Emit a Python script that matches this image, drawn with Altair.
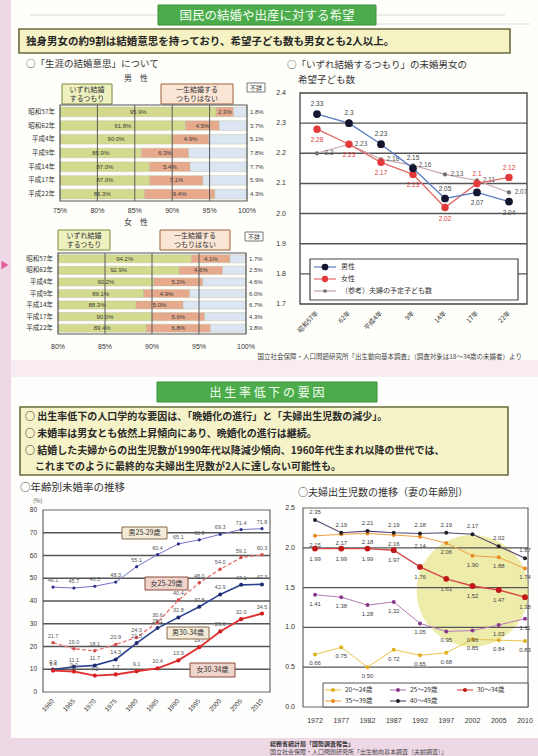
import altair as alt
import pandas as pd

FONT = "Noto Sans CJK JP"
NUMF = "Liberation Sans"
W, H = 538, 756

# ---------------- data: 生涯の結婚意思 (%) ----------------
survey_rows = ["昭和57年", "昭和62年", "平成4年", "平成9年", "平成14年", "平成17年", "平成22年"]
intent_segments = ["いずれ結婚するつもり", "一生結婚するつもりはない", "不詳"]
male_marry = [95.9, 91.8, 90.0, 85.9, 87.0, 87.0, 86.3]
male_never = [2.3, 4.5, 4.9, 6.3, 5.4, 7.1, 9.4]
male_unknown = [1.8, 3.7, 5.1, 7.8, 7.7, 5.9, 4.3]
female_marry = [94.2, 92.9, 90.2, 89.1, 88.3, 90.0, 89.4]
female_never = [4.1, 4.6, 5.2, 4.9, 5.0, 5.6, 6.8]
female_unknown = [1.7, 2.5, 4.6, 6.0, 6.7, 4.3, 3.8]
male_ticks = [75, 80, 85, 90, 95, 100]
female_ticks = [80, 85, 90, 95, 100]

# ---------------- data: 希望子ども数 ----------------
child_periods = ["昭和57年", "62年", "平成4年", "9年", "14年", "17年", "22年"]
child_series = ["男性", "女性", "（参考）夫婦の予定子ども数"]
child_male = [2.33, 2.30, 2.23, 2.15, 2.05, 2.07, 2.04]
child_female = [2.28, 2.23, 2.17, 2.13, 2.02, 2.10, 2.12]
child_couple = [2.20, 2.23, 2.18, 2.16, 2.13, 2.11, 2.07]
child_ticks = [1.7, 1.8, 1.9, 2.0, 2.1, 2.2, 2.3, 2.4]

# ---------------- data: 年齢別未婚率 (%) ----------------
census_years = ["1960", "1965", "1970", "1975", "1980", "1985", "1990", "1995", "2000", "2005", "2010"]
unmarried_series = ["男25-29歳", "女25-29歳", "男30-34歳", "女30-34歳"]
unm_m2529 = [46.1, 45.7, 46.5, 48.3, 55.1, 60.4, 65.1, 66.9, 69.3, 71.4, 71.8]
unm_f2529 = [21.7, 19.0, 18.1, 20.9, 24.0, 30.6, 40.4, 48.0, 54.0, 59.1, 60.3]
unm_m3034 = [9.9, 11.1, 11.7, 14.3, 21.5, 28.1, 32.8, 37.5, 42.9, 47.1, 47.3]
unm_f3034 = [9.4, 9.0, 7.2, 7.7, 9.1, 10.4, 13.9, 19.7, 26.6, 32.0, 34.5]
unmarried_ticks = [0, 10, 20, 30, 40, 50, 60, 70, 80]

# ---------------- data: 夫婦出生児数（妻の年齢別） ----------------
fert_years = ["1972", "1977", "1982", "1987", "1992", "1997", "2002", "2005", "2010"]
fert_series = ["20〜24歳", "25〜29歳", "30〜34歳", "35〜39歳", "40〜49歳"]
fert_20_24 = [0.66, 0.75, 0.50, 0.72, 0.65, 0.68, 0.85, 0.84, 0.83]
fert_25_29 = [1.41, 1.38, 1.28, 1.32, 1.05, 0.95, 0.96, 1.03, 1.11]
fert_30_34 = [1.99, 1.99, 1.99, 1.97, 1.76, 1.61, 1.52, 1.47, 1.38]
fert_35_39 = [2.15, 2.17, 2.18, 2.16, 2.14, 2.06, 1.90, 1.88, 1.74]
fert_40_49 = [2.35, 2.19, 2.21, 2.19, 2.18, 2.19, 2.17, 2.02, 1.87]
fert_ticks = [0.0, 0.5, 1.0, 1.5, 2.0, 2.5]

# ---------------- helpers ----------------
one = pd.DataFrame({"k": [0]})
layers = []


def rect(x, x2, y, y2, fill, stroke=None, sw=1.0, opacity=1.0):
    kw = dict(fill=fill, opacity=opacity)
    if stroke:
        kw.update(stroke=stroke, strokeWidth=sw)
    return alt.Chart(one).mark_rect(**kw).encode(
        x=alt.value(x), x2=alt.value(x2), y=alt.value(y), y2=alt.value(y2))


def text(s, x, y, size=8, color="#222", weight="normal", align="left",
         baseline="middle", font=FONT, lh=None, angle=None):
    kw = dict(text=s, fontSize=size, color=color, fontWeight=weight,
              align=align, baseline=baseline, font=font)
    if lh:
        kw["lineHeight"] = lh
    if angle is not None:
        kw["angle"] = angle
    return alt.Chart(one).mark_text(**kw).encode(x=alt.value(x), y=alt.value(y))


def hline(x, x2, y, color, sw=1.0, dash=None):
    kw = dict(color=color, strokeWidth=sw)
    if dash:
        kw["strokeDash"] = dash
    return alt.Chart(one).mark_rule(**kw).encode(x=alt.value(x), x2=alt.value(x2), y=alt.value(y))


def dot(x, y, color, size=30, shape="circle"):
    return alt.Chart(one).mark_point(filled=True, color=color, size=size, shape=shape, opacity=1).encode(
        x=alt.value(x), y=alt.value(y))


# ---------------- page background ----------------
layers.append(rect(11, W, 0, 360, "#fefefa"))
layers.append(rect(11, W, 360, 377, "#f8ecf2"))
layers.append(rect(11, W, 377, 738, "#fefefd"))
layers.append(dot(5, 265, "#e0609c", 70, "triangle-right"))

# banner 1 + headline box
layers.append(hline(30, 157, 15, "#d6d6d6"))
layers.append(hline(377, 505, 15, "#d6d6d6"))
layers.append(hline(377, 530, 24, "#dcdcdc"))
layers.append(rect(158, 376, 5, 25, "#4cac4c", "#3d8f3d", 1))
layers.append(text("国民の結婚や出産に対する希望", 267, 15.5, 12.5, "#f4fff2", align="center"))
layers.append(rect(19, 510, 29, 53, "#f5f2c4", "#6b6b3c", 1.6))
layers.append(text("独身男女の約9割は結婚意思を持っており、希望子ども数も男女とも2人以上。",
                   26, 41.5, 10.5, "#262626", weight="bold"))

# ---------------- bar panels ----------------
intent_colors = ["#d3da8d", "#e6a98c", "#dbe6f2"]


def bar_panel(marry, never, unknown, ticks, xr, yr, tick_y):
    lo, hi = ticks[0], ticks[-1]
    xs = alt.Scale(domain=[lo, hi], range=xr, zero=False, nice=False)
    ys = alt.Scale(domain=survey_rows, range=yr, paddingInner=0.3, paddingOuter=0.15)
    recs = []
    for r, a, b, c in zip(survey_rows, marry, never, unknown):
        recs.append({"row": r, "seg": intent_segments[0], "s": lo, "e": a,
                     "m": (lo + a) / 2, "lab": f"{a:.1f}%", "side": "in"})
        recs.append({"row": r, "seg": intent_segments[1], "s": a, "e": a + b,
                     "m": a + b / 2, "lab": f"{b:.1f}%", "side": "in"})
        recs.append({"row": r, "seg": intent_segments[2], "s": a + b, "e": hi,
                     "m": hi, "lab": f"{c:.1f}%", "side": "out"})
    df = pd.DataFrame(recs)
    Y = alt.Y("row:N", scale=ys, axis=None)
    out = []
    out.append(alt.Chart(df).mark_bar(stroke="#b8b8a0", strokeWidth=0.4).encode(
        x=alt.X("s:Q", scale=xs, axis=None), x2="e:Q", y=Y,
        color=alt.Color("seg:N", scale=alt.Scale(domain=intent_segments, range=intent_colors), legend=None)))
    tdf = pd.DataFrame({"t": ticks, "lab": [f"{t}%" for t in ticks]})
    out.append(alt.Chart(tdf[1:-1]).mark_rule(color="#5a5a5a", strokeWidth=1).encode(
        x=alt.X("t:Q", scale=xs, axis=None), y=alt.value(yr[0]), y2=alt.value(yr[1])))
    out.append(rect(xr[0], xr[1], yr[0], yr[1], "transparent", "#555", 1.2))
    out.append(alt.Chart(df).transform_filter(alt.datum.side == "in").mark_text(
        fontSize=6, color="#3a3a3a", font=NUMF).encode(
        x=alt.X("m:Q", scale=xs, axis=None), y=Y, text="lab:N"))
    out.append(alt.Chart(df).transform_filter(alt.datum.side == "out").mark_text(
        fontSize=6, color="#3a3a3a", font=NUMF, align="left", dx=3).encode(
        x=alt.X("m:Q", scale=xs, axis=None), y=Y, text="lab:N"))
    out.append(alt.Chart(pd.DataFrame({"row": survey_rows})).mark_text(
        fontSize=6.5, color="#333", font=FONT, align="right").encode(
        x=alt.value(xr[0] - 5), y=Y, text="row:N"))
    out.append(alt.Chart(tdf).mark_text(fontSize=7, color="#333", font=NUMF).encode(
        x=alt.X("t:Q", scale=xs, axis=None), y=alt.value(tick_y), text="lab:N"))
    return out


layers.append(text("○「生涯の結婚意思」について", 26, 64, 9.5, "#333"))
layers.append(text("男　性", 136, 79, 8, "#333", align="center"))
layers.append(rect(62, 112, 84, 104, "#eef1bf", "#7d8a3a", 1))
layers.append(text(["いずれ結婚", "するつもり"], 87, 90, 7, "#333", align="center", lh=9))
layers.append(rect(161, 233, 84, 104, "#fbe6d6", "#a0603a", 1))
layers.append(text(["一生結婚する", "つもりはない"], 197, 90, 7, "#333", align="center", lh=9))
layers.append(rect(247, 265, 83, 92, "#ffffff", "#555", 0.8))
layers.append(text("不詳", 256, 87.5, 6, "#333", align="center"))
layers.extend(bar_panel(male_marry, male_never, male_unknown, male_ticks, [60, 247], [105, 201], 211))

layers.append(text("女　性", 136, 223, 8, "#333", align="center"))
layers.append(rect(58, 110, 230, 250, "#eef1bf", "#7d8a3a", 1))
layers.append(text(["いずれ結婚", "するつもり"], 84, 236, 7, "#333", align="center", lh=9))
layers.append(rect(160, 230, 230, 250, "#fbe6d6", "#a0603a", 1))
layers.append(text(["一生結婚する", "つもりはない"], 195, 236, 7, "#333", align="center", lh=9))
layers.append(rect(245, 263, 232, 241, "#ffffff", "#555", 0.8))
layers.append(text("不詳", 254, 236.5, 6, "#333", align="center"))
layers.extend(bar_panel(female_marry, female_never, female_unknown, female_ticks, [58, 246], [253, 334], 347))


# ---------------- line helper ----------------
def series(cats, vals, labels, xs, ys, lcol, pcol, sw=1.2, size=30, dash=None,
           lab_col="#333", dx=0, dy=-8, lab_size=6.5, dys=None):
    df = pd.DataFrame({"c": cats, "v": vals, "lab": labels, "i": list(range(len(cats)))})
    base = alt.Chart(df).encode(x=alt.X("c:N", scale=xs, axis=None),
                                y=alt.Y("v:Q", scale=ys, axis=None))
    lk = dict(color=lcol, strokeWidth=sw)
    if dash:
        lk["strokeDash"] = dash
    out = [base.mark_line(**lk).encode(order=alt.Order("i:Q")),
           base.mark_point(filled=True, size=size, color=pcol, opacity=1)]
    offsets = dys if dys is not None else [dy] * len(cats)
    for off in sorted(set(offsets)):
        idx = [i for i, o in enumerate(offsets) if o == off]
        out.append(base.transform_filter(alt.FieldOneOfPredicate(field="i", oneOf=idx)).mark_text(
            fontSize=lab_size, color=lab_col, dx=dx, dy=off, font=NUMF).encode(text="lab:N"))
    return out


def grid_y(ticks, ys, x0, x1, col="#555", sw=1.2):
    return alt.Chart(pd.DataFrame({"t": ticks})).mark_rule(color=col, strokeWidth=sw).encode(
        y=alt.Y("t:Q", scale=ys, axis=None), x=alt.value(x0), x2=alt.value(x1))


def ylabels(ticks, labs, ys, x, size=7):
    return alt.Chart(pd.DataFrame({"t": ticks, "lab": labs})).mark_text(
        fontSize=size, color="#333", align="right", font=NUMF).encode(
        y=alt.Y("t:Q", scale=ys, axis=None), x=alt.value(x), text="lab:N")


def xlabels(cats, xs, y, size=6.5, angle=None, font=FONT):
    kw = dict(fontSize=size, color="#333", font=font)
    if angle is not None:
        kw.update(angle=angle, align="right", baseline="middle")
    return alt.Chart(pd.DataFrame({"c": cats})).mark_text(**kw).encode(
        x=alt.X("c:N", scale=xs, axis=None), y=alt.value(y), text="c:N")


# ---------------- 希望子ども数 panel ----------------
xs_c = alt.Scale(type="point", domain=child_periods, range=[317, 509], padding=0)
ys_c = alt.Scale(domain=[1.7, 2.4], range=[304, 93], zero=False, nice=False)
layers.append(text("○「いずれ結婚するつもり」の未婚男女の", 287, 65, 9.5, "#333"))
layers.append(text("希望子ども数", 298, 80, 9.5, "#333"))
layers.append(rect(300, 527, 93, 304, "#ffffff", "#444", 1.3))
layers.append(grid_y(child_ticks[1:-1], ys_c, 300, 527, "#555", 1.4))
layers.append(ylabels(child_ticks, [f"{t:.1f}" for t in child_ticks], ys_c, 286))
layers.append(xlabels(child_periods, xs_c, 312, 6.5, angle=312))
layers.extend(series(child_periods, child_couple, [f"{v:g}" for v in child_couple], xs_c, ys_c,
                     "#c4a2aa", "#707070", 1.1, 18, lab_col="#555", dx=12, dy=0))
layers.extend(series(child_periods, child_female, [f"{v:g}" for v in child_female], xs_c, ys_c,
                     "#e46a6a", "#e23a3a", 1.3, 55, lab_col="#e03a3a",
                     dys=[11, 11, 11, 11, 11, -9, -9]))
layers.extend(series(child_periods, child_male, [f"{v:g}" for v in child_male], xs_c, ys_c,
                     "#5b7cc0", "#151530", 1.3, 60, lab_col="#444",
                     dys=[-10, -10, -10, -10, -10, 11, 11]))
layers.append(rect(310, 518, 259, 300, "#ffffff", "#444", 1.2))
leg_c = [("#5b7cc0", "#151530", 45), ("#e46a6a", "#e23a3a", 40), ("#c4a2aa", "#707070", 14)]
for k, (name, (lc, pc, sz)) in enumerate(zip(child_series, leg_c)):
    yy = 267 + 12 * k
    layers.append(hline(314, 336, yy, lc, 1.2))
    layers.append(dot(325, yy, pc, sz))
    layers.append(text(name, 341, yy, 7, "#333"))

layers.append(text("国立社会保障・人口問題研究所「出生動向基本調査」（調査対象は18〜34歳の未婚者）より",
                   522, 357, 6.5, "#444", align="right"))

# ---------------- section 2 header ----------------
layers.append(rect(157, 377, 382, 402, "#4cac4c", "#3d8f3d", 1))
layers.append(text("出 生 率 低 下 の 要 因", 267, 392.5, 12, "#f4fff2", align="center"))
layers.append(rect(20, 508, 407, 475, "#f6f3c8", "#6b6b3c", 1.6))
layers.append(text("○ 出生率低下の人口学的な要因は、「晩婚化の進行」と「夫婦出生児数の減少」。", 25, 417, 10, "#2a2a2a", weight="bold"))
layers.append(text("○ 未婚率は男女とも依然上昇傾向にあり、晩婚化の進行は継続。", 25, 434, 10, "#2a2a2a", weight="bold"))
layers.append(text("○ 結婚した夫婦からの出生児数が1990年代以降減少傾向、1960年代生まれ以降の世代では、", 25, 451, 10, "#2a2a2a", weight="bold"))
layers.append(text("これまでのように最終的な夫婦出生児数が2人に達しない可能性も。", 35, 467, 10, "#2a2a2a", weight="bold"))

# ---------------- 年齢別未婚率 panel ----------------
xs_u = alt.Scale(type="point", domain=census_years, range=[53, 262], padding=0)
ys_u = alt.Scale(domain=[0, 80], range=[692, 510], zero=False, nice=False)
layers.append(text("○年齢別未婚率の推移", 20, 488, 10.5, "#333"))
layers.append(text("(%)", 33, 501, 6, "#555"))
layers.append(rect(43, 270, 510, 692, "#ffffff", "#666", 1.2))
layers.append(grid_y(unmarried_ticks[1:-1], ys_u, 43, 270, "#555", 1.3))
layers.append(ylabels(unmarried_ticks, [str(t) for t in unmarried_ticks], ys_u, 37, 6.5))
layers.append(xlabels(census_years, xs_u, 700, 6.5, angle=312, font=NUMF))
unm_style = [
    (unm_m2529, "#7474c8", "#2e2e88", 1.0, 10, None),
    (unm_f2529, "#e87474", "#d84848", 1.3, 12, [4, 2]),
    (unm_m3034, "#2b3f8f", "#1e2a6e", 1.6, 16, None),
    (unm_f3034, "#e23232", "#d42020", 1.9, 18, None),
]
for vals, lc, pc, sw, sz, dash in unm_style:
    layers.extend(series(census_years, vals, [f"{v:.1f}" for v in vals], xs_u, ys_u,
                         lc, pc, sw, sz, dash=dash, lab_col="#555", dy=-7, lab_size=5.5))
unm_boxes = [(122, 167, 527, 539, "#f3ead8", "#8a6a4a"),
             (145, 188, 577, 590, "#efd4cc", "#8a4a3a"),
             (167, 209, 627, 639, "#f3ead8", "#8a6a4a"),
             (190, 235, 663, 677, "#efd4cc", "#8a4a3a")]
for name, (x0, x1, y0, y1, fc, sc) in zip(unmarried_series, unm_boxes):
    layers.append(rect(x0, x1, y0, y1, fc, sc, 1))
    layers.append(text(name, (x0 + x1) / 2, (y0 + y1) / 2, 7, "#333", align="center"))

# ---------------- 夫婦出生児数 panel ----------------
xs_f = alt.Scale(type="point", domain=fert_years, range=[315, 525], padding=0)
ys_f = alt.Scale(domain=[0, 2.5], range=[707, 508], zero=False, nice=False)
layers.append(text("○夫婦出生児数の推移（妻の年齢別）", 298, 493, 10, "#333"))
layers.append(rect(303, 528, 508, 707, "#ffffff", "#666", 1.2))
layers.append(alt.Chart(pd.DataFrame({"c": ["2002"], "v": [1.46]})).mark_point(
    filled=True, shape="circle", size=12500, color="#e2df72", opacity=0.6).encode(
    x=alt.X("c:N", scale=xs_f, axis=None), y=alt.Y("v:Q", scale=ys_f, axis=None)))
layers.append(grid_y(fert_ticks[1:-1], ys_f, 303, 528, "#555", 1.3))
layers.append(ylabels(fert_ticks, [f"{t:.1f}" for t in fert_ticks], ys_f, 295, 7))
layers.append(xlabels(fert_years, xs_f, 721, 7, font=NUMF))
fert_style = [
    (fert_20_24, "#e8c54a", "#e0b020", 1.0, 16, 9),
    (fert_25_29, "#b77ab7", "#8a3a8a", 1.0, 16, 9),
    (fert_35_39, "#f0a040", "#e88a20", 1.0, 16, 9),
    (fert_30_34, "#d44848", "#c01818", 1.4, 34, 10),
    (fert_40_49, "#55456f", "#222", 1.1, 16, -8),
]
for vals, lc, pc, sw, sz, dy in fert_style:
    layers.extend(series(fert_years, vals, [f"{v:.2f}" for v in vals], xs_f, ys_f,
                         lc, pc, sw, sz, lab_col="#444", dy=dy, lab_size=6))
layers.append(rect(323, 528, 683, 707, "#ffffff", "#555", 1))
fert_leg = {"20〜24歳": ("#e8c54a", "#e0b020", 333, 690), "25〜29歳": ("#b77ab7", "#8a3a8a", 398, 690),
            "30〜34歳": ("#d44848", "#c01818", 465, 690), "35〜39歳": ("#f0a040", "#e88a20", 333, 701),
            "40〜49歳": ("#55456f", "#222", 398, 701)}
for name in fert_series:
    lc, pc, xm, yy = fert_leg[name]
    layers.append(hline(xm - 8, xm + 8, yy, lc, 1.1))
    layers.append(dot(xm, yy, pc, 16))
    layers.append(text(name, xm + 12, yy, 6.5, "#333"))

# ---------------- footer ----------------
layers.append(text("総務省統計局「国勢調査報告」", 270, 744, 6, "#333", weight="bold"))
layers.append(text("国立社会保障・人口問題研究所「出生動向基本調査（夫婦調査）」", 270, 752, 6, "#444"))

chart = alt.layer(*layers).resolve_scale(
    x="independent", y="independent", color="independent"
).properties(
    width=W, height=H, background="#eed8e6", padding=0,
    autosize=alt.AutoSizeParams(type="none")
).configure_view(strokeWidth=0)

chart.save("out.html", embed_options={"renderer": "svg", "actions": False})
